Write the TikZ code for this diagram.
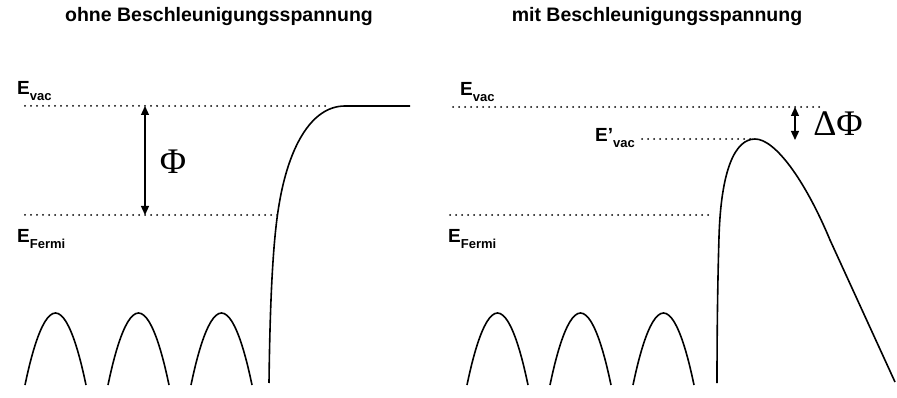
\documentclass[tikz,border=0pt]{standalone}
\usepackage{fontspec}
\setmainfont{Liberation Sans}
\newfontfamily\symfont{Liberation Serif}
\usetikzlibrary{arrows.meta, positioning}

% energy level label with lowered index
\newcommand{\lvl}[2]{#1\raisebox{-5.5pt}{\fontsize{13}{13}\selectfont #2}}

\begin{document}
\begin{tikzpicture}[x=1pt, y=-1pt,
        every node/.style={inner sep=0pt, font=\bfseries\fontsize{19}{19}\selectfont},
        title/.style={anchor=base, font=\bfseries\fontsize{19.5}{20}\selectfont},
        level/.style={anchor=base west},
        sym/.style={font=\symfont\fontsize{36}{36}\selectfont},
        band/.style={line width=1.6pt, line join=round},
        dots/.style={line width=2pt, line cap=round, dash pattern=on 0pt off 6pt},
        arr/.style={{Triangle[length=9pt,width=8pt]}-{Triangle[length=9pt,width=8pt]}, line width=1.3pt}
    ]
    \useasboundingbox (0,0) rectangle (897,398);

    % --- ohne Spannung
    \node[title] (titleL) at (219,22) {ohne Beschleunigungsspannung};
    \node[level] (evacL) at (17,95) {\lvl{E}{vac}};
    \node[level] (efermiL) at (17,243) {\lvl{E}{Fermi}};
    \draw[dots] (25,106) -- (330,106);
    \draw[dots] (25,215) -- (281,215);
    \coordinate (phitop) at (145,106);
    \coordinate (phibot) at (145,215);
    \draw[arr] (phitop) -- (phibot);
    \node[sym] (phi) at (173,162) {Φ};
    \draw[band] (269,383) .. controls (270,300) and (273,240) .. (279,205)
        .. controls (288,150) and (310,106) .. (345,106) -- (410,106);
    \foreach \x in {25,108,191}
        \draw[band] (\x,385) parabola bend (\x+30.5,313) (\x+61,385);

    % --- mit Spannung
    \node[title] (titleR) at (657,22) {mit Beschleunigungsspannung};
    \node[level] (evacR) at (460,96) {\lvl{E}{vac}};
    \node[level] (evacP) at (595,142) {\lvl{E’}{vac}};
    \node[level] (efermiR) at (448,243) {\lvl{E}{Fermi}};
    \draw[dots] (453,107) -- (820,107);
    \draw[dots] (642,139) -- (750,139);
    \draw[dots] (450,215) -- (710,215);
    \coordinate (dtop) at (795,107);
    \coordinate (dbot) at (795,140);
    \draw[arr] (dtop) -- (dbot);
    \node[sym] (dphi) at (838,124) {ΔΦ};
    \draw[band] (717,383) .. controls (717,320) and (718,270) .. (719,237)
        .. controls (721,170) and (735,139) .. (755,139)
        .. controls (775,139) and (805,180) .. (830,240) -- (895,382);
    \foreach \x in {467,550,633}
        \draw[band] (\x,385) parabola bend (\x+30.5,313) (\x+61,385);
\end{tikzpicture}
\end{document}
